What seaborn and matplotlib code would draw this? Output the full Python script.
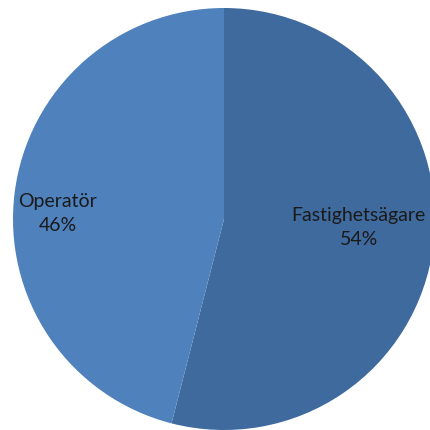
import matplotlib
matplotlib.use("Agg")
import matplotlib.pyplot as plt
import seaborn as sns
import numpy as np

categories = ["Fastighetsägare", "Operatör"]
values = [54, 46]
colors = ["#3F6A9E", "#4F81BD"]

sns.set_theme(style="white")
plt.rcParams['font.family'] = ['Lato', 'DejaVu Sans']

fig = plt.figure(figsize=(4.31, 4.30), dpi=100)
ax = fig.add_axes([0, 0, 1, 1])
wedges, _ = ax.pie(values, colors=colors, startangle=90, counterclock=False,
                   radius=1.0, wedgeprops=dict(linewidth=0))
ax.set_xlim(-224/211, (431-224)/211)
ax.set_ylim(-(430-219)/211, 219/211)
ax.set_aspect('equal')
ax.axis('off')

dists = [0.64, 0.79]
angle_adj = [3.4, 5.2]
for w, cat, v, d, adj in zip(wedges, categories, values, dists, angle_adj):
    mid = np.deg2rad((w.theta1 + w.theta2) / 2 + adj)
    x, y = d * np.cos(mid), d * np.sin(mid)
    ax.text(x, y, f"{cat}\n{v}%", ha='center', va='center', fontsize=14,
            color='#1a1a1a', linespacing=1.5)

fig.savefig("out.png", dpi=100)
